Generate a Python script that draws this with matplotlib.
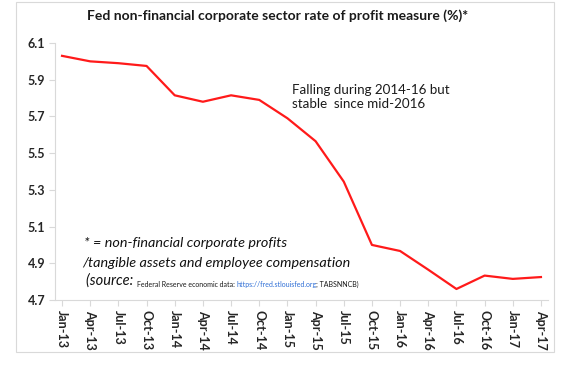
import matplotlib.pyplot as plt
from matplotlib.patches import Rectangle

# quarterly rate of profit
quarters = ["Jan-13", "Apr-13", "Jul-13", "Oct-13", "Jan-14", "Apr-14", "Jul-14", "Oct-14",
            "Jan-15", "Apr-15", "Jul-15", "Oct-15", "Jan-16", "Apr-16", "Jul-16", "Oct-16",
            "Jan-17", "Apr-17"]
profit_rate = [6.03, 6.00, 5.99, 5.975, 5.815, 5.78, 5.815, 5.79,
               5.69, 5.565, 5.345, 5.00, 4.967, 4.865, 4.76, 4.833,
               4.815, 4.825]
y_ticks = [4.7, 4.9, 5.1, 5.3, 5.5, 5.7, 5.9, 6.1]

plt.rcParams['font.family'] = ['Lato', 'DejaVu Sans']
grey = "#d9d9d9"
text_col = "#262626"

fig = plt.figure(figsize=(5.62, 3.66), dpi=100)
ax = fig.add_axes([55 / 562, 1 - 300 / 366, 493 / 562, 257 / 366])

x = list(range(len(quarters)))
ax.plot(x, profit_rate, color="#ff1a1a", linewidth=1.6)

ax.set_ylim(4.7, 6.1)
ax.set_xlim(-0.25, len(quarters) - 0.75)
ax.set_yticks(y_ticks)
ax.set_yticklabels([f"{v:.1f}" for v in y_ticks], fontsize=9, fontweight="bold", color=text_col)
ax.set_xticks(x)
ax.set_xticklabels(quarters, rotation=-90, fontsize=9, fontweight="bold", color=text_col)
ax.tick_params(axis="both", color=grey, length=4, width=0.8, pad=3)

for side in ["top", "right"]:
    ax.spines[side].set_visible(False)
for side in ["left", "bottom"]:
    ax.spines[side].set_color(grey)
    ax.spines[side].set_linewidth(0.8)

fig.text(0.493, 1 - 16 / 366, "Fed non-financial corporate sector rate of profit measure (%)*",
         ha="center", va="center", fontsize=10, fontweight="bold", color="#1a1a1a")

ax.text(292 / 562, 1 - 84 / 366, "Falling during 2014-16 but\nstable  since mid-2016",
        transform=fig.transFigure, ha="left", va="top", fontsize=9.6, color="#1a1a1a",
        linespacing=1.25)

# footnote in the lower left
ax.text(84 / 562, 1 - 243 / 366, "* = non-financial corporate profits",
        transform=fig.transFigure, ha="left", va="center", fontsize=10.4, style="italic", color="#111111")
ax.text(82 / 562, 1 - 263 / 366, "/tangible assets and employee compensation",
        transform=fig.transFigure, ha="left", va="center", fontsize=10.4, style="italic", color="#111111")
src = ax.text(86 / 562, 1 - 285 / 366, "(source: ",
              transform=fig.transFigure, ha="left", va="baseline", fontsize=10.5, style="italic",
              color="#111111")
t1 = ax.annotate("Federal Reserve economic data: ", xy=(1, 0), xycoords=src,
                 ha="left", va="bottom", fontsize=5, color="#1a1a1a")
t2 = ax.annotate("https://fred.stlouisfed.org", xy=(1, 0), xycoords=t1,
                 ha="left", va="bottom", fontsize=5, color="#2f6fd6")
ax.annotate("; TABSNNCB)", xy=(1, 0), xycoords=t2,
            ha="left", va="bottom", fontsize=5, color="#1a1a1a")

# chart frame
fig.patches.append(Rectangle((16 / 562, 1 - 352 / 366), 538 / 562, 350 / 366,
                             transform=fig.transFigure, fill=False,
                             edgecolor=grey, linewidth=0.8))

fig.savefig("out.png", dpi=100)
